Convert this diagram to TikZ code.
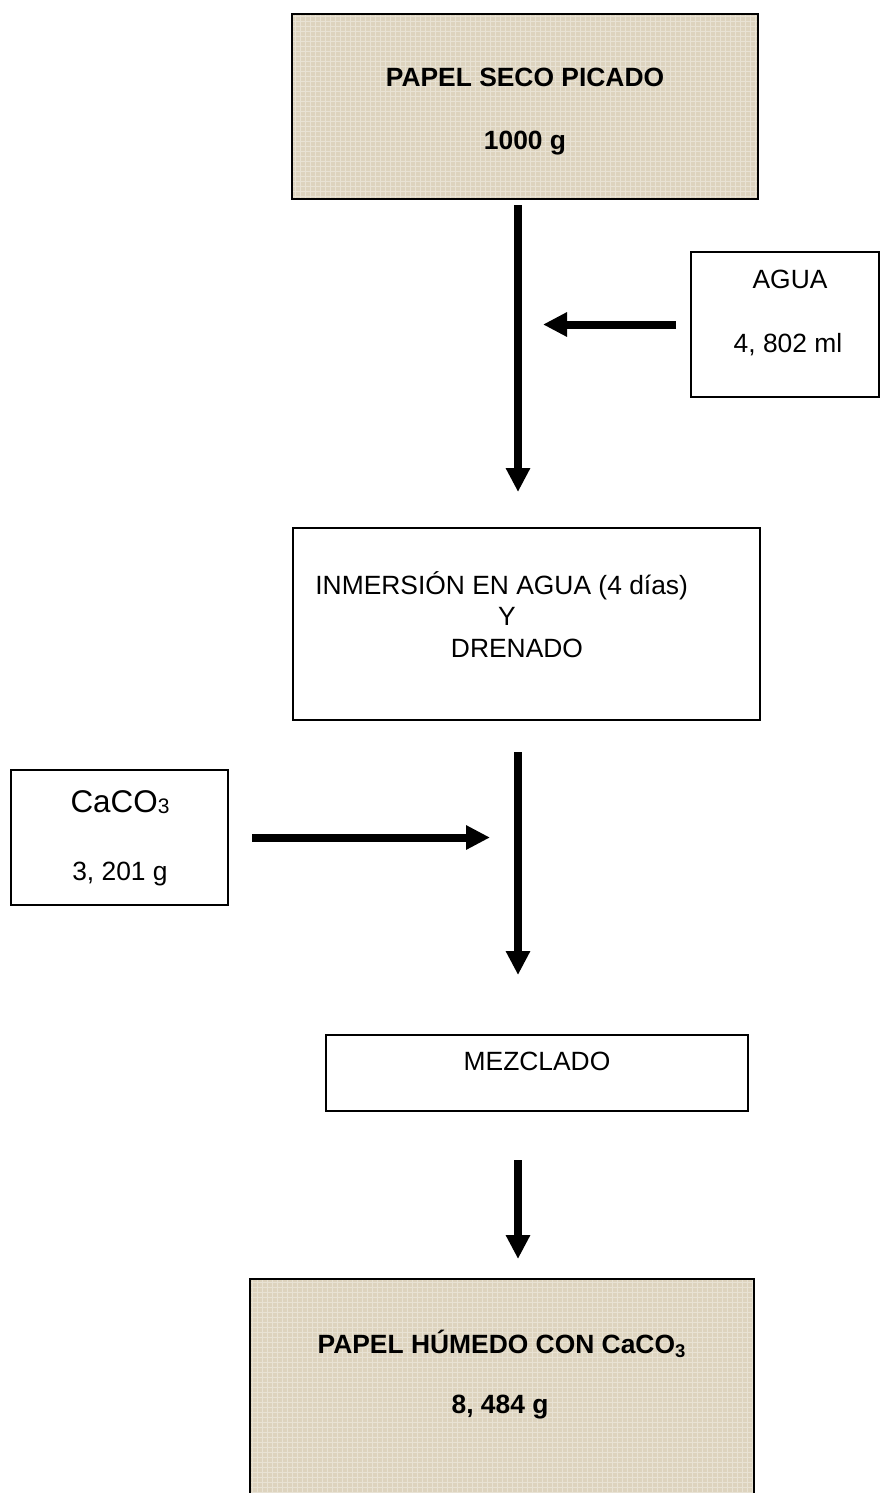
\documentclass[tikz,border=0pt]{standalone}
\usepackage{fontspec}
\setmainfont{Liberation Sans}
\usetikzlibrary{arrows.meta,positioning,calc}

\definecolor{linen}{RGB}{221,211,190}

\begin{document}
\begin{tikzpicture}[
    x=0.5pt, y=-0.5pt,
    font=\fontsize{13.2}{15}\selectfont,
    flow/.style={-{Triangle[length=12pt,width=11.5pt]}, line width=4pt},
    procbox/.style={draw=black, line width=0.75pt, inner sep=0pt, outer sep=0pt},
    linenbox/.style={procbox, line width=1pt, fill=linen,
        path picture={
            \draw[step=2.5pt, white, opacity=0.35, line width=0.4pt]
                (path picture bounding box.south west) grid (path picture bounding box.north east);
        }},
    txt/.style={anchor=base, inner sep=0pt},
    boldtxt/.style={txt, font=\fontsize{13.2}{15}\selectfont\bfseries}
]
    \useasboundingbox (0,0) rectangle (880,1493);

    % spine of the main flow
    \coordinate (spine) at (518,0);

    % Boxes
    \node[linenbox, minimum width=233pt, minimum height=92.5pt] (papel) at (525,106.5) {};
    \node[procbox, minimum width=94pt, minimum height=72.5pt] (agua) at (785,324.5) {};
    \node[procbox, minimum width=233.5pt, minimum height=96pt] (inmersion) at (526.5,624) {};
    \node[procbox, minimum width=108.5pt, minimum height=67.5pt] (caco) at (119.5,837.5) {};
    \node[procbox, minimum width=211pt, minimum height=38pt] (mezclado) at (537,1073) {};
    \node[linenbox, minimum width=252pt, minimum height=113pt] (humedo) at (502,1392) {};

    % Texts
    \node[boldtxt] (papelT) at (525,87) {PAPEL SECO PICADO};
    \node[boldtxt] (papelM) at (525,149) {1000 g};
    \node[txt] (aguaT) at (790,288) {AGUA};
    \node[txt] (aguaM) at (788,352) {4, 802 ml};
    \node[txt, anchor=base west] (inmT) at (315,594) {INMERSIÓN EN AGUA (4 días)};
    \node[txt] (inmY) at (507,625) {Y};
    \node[txt] (inmD) at (517,657) {DRENADO};
    \node[txt, font=\fontsize{15.7}{18}\selectfont] (cacoT) at (120,812)
        {CaCO\raisebox{-0.8pt}{\fontsize{10.5}{12}\selectfont 3}};
    \node[txt] (cacoM) at (120,880) {3, 201 g};
    \node[txt] (mezT) at (537,1070) {MEZCLADO};
    \node[boldtxt] (humT) at (502,1353) {PAPEL HÚMEDO CON CaCO\textsubscript{3}};
    \node[boldtxt] (humM) at (500,1413) {8, 484 g};

    % Flow arrows
    \draw[flow, shorten <=3pt, shorten >=18pt] (papel.south -| spine) -- (inmersion.north -| spine);
    \draw[flow, shorten <=7.5pt, shorten >=12.5pt] (agua.west) -- (agua.west -| spine);
    \draw[flow, shorten <=16pt, shorten >=30pt] (inmersion.south -| spine) -- (mezclado.north -| spine);
    \draw[flow, shorten <=12pt, shorten >=14pt] (caco.east) -- (caco.east -| spine);
    \draw[flow, shorten <=24.5pt, shorten >=10pt] (mezclado.south -| spine) -- (humedo.north -| spine);

\end{tikzpicture}
\end{document}
